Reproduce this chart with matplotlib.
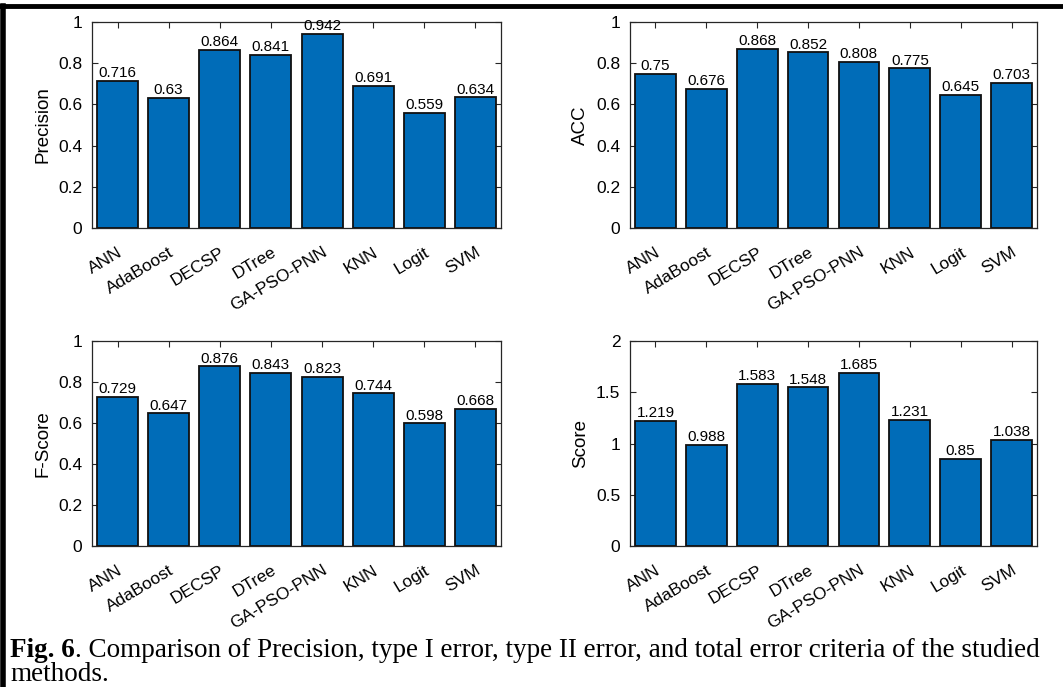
import numpy as np
import matplotlib.pyplot as plt
import matplotlib.transforms as mtransforms
from matplotlib.lines import Line2D

methods = ['ANN', 'AdaBoost', 'DECSP', 'DTree', 'GA-PSO-PNN', 'KNN', 'Logit', 'SVM']
precision = [0.716, 0.63, 0.864, 0.841, 0.942, 0.691, 0.559, 0.634]
acc = [0.75, 0.676, 0.868, 0.852, 0.808, 0.775, 0.645, 0.703]
fscore = [0.729, 0.647, 0.876, 0.843, 0.823, 0.744, 0.598, 0.668]
score = [1.219, 0.988, 1.583, 1.548, 1.685, 1.231, 0.85, 1.038]

ticks_01 = [0, 0.2, 0.4, 0.6, 0.8, 1]
ticks_02 = [0, 0.5, 1, 1.5, 2]

caption_bold = 'Fig. 6'
caption_rest = '. Comparison of Precision, type I error, type II error, and total error criteria of the studied'
caption_line2 = 'methods.'

bar_color = '#006CB8'
sans = 'Liberation Sans'
serif = 'Liberation Serif'

fig = plt.figure(figsize=(10.63, 6.87), dpi=100)

W, H = 1063, 687


def px_axes(x0, y0, x1, y1):
    return fig.add_axes([x0 / W, 1 - y1 / H, (x1 - x0) / W, (y1 - y0) / H])


def bar_panel(ax, vals, ylabel, yticks):
    x = np.arange(1, len(vals) + 1)
    ax.bar(x, vals, width=0.8, color=bar_color, edgecolor='#101010', linewidth=1.3, zorder=2)
    for xi, v in zip(x, vals):
        ax.text(xi, v + yticks[-1] * 0.004, f'{v:g}', ha='center', va='bottom',
                fontsize=11, family=sans, color='black')
    ax.set_xlim(0.5, len(vals) + 0.5)
    ax.set_ylim(0, yticks[-1])
    ax.set_yticks(yticks)
    ax.set_yticklabels([f'{t:g}' for t in yticks], fontsize=12.5, family=sans)
    ax.set_xticks(x)
    ax.set_xticklabels(methods, rotation=31, ha='right', va='top', rotation_mode='anchor',
                       fontsize=12.5, family=sans)
    shift = mtransforms.ScaledTranslation(10 / 100, 0, fig.dpi_scale_trans)
    for lab in ax.get_xticklabels():
        lab.set_transform(lab.get_transform() + shift)
    ax.set_ylabel(ylabel, fontsize=13.5, family=sans, labelpad=5)
    ax.tick_params(direction='in', length=4, width=0.8, top=True, right=True,
                   color='#262626', pad=7)
    ax.tick_params(axis='x', pad=12)
    for s in ax.spines.values():
        s.set_color('#262626')
        s.set_linewidth(0.9)


ax1 = px_axes(92, 22, 501, 228)
bar_panel(ax1, precision, 'Precision', ticks_01)
ax2 = px_axes(630, 22, 1037, 228)
bar_panel(ax2, acc, 'ACC', ticks_01)
ax3 = px_axes(92, 341, 501, 546)
bar_panel(ax3, fscore, 'F-Score', ticks_01)
ax4 = px_axes(630, 341, 1037, 546)
bar_panel(ax4, score, 'Score', ticks_02)

# page border lines
fig.add_artist(Line2D([0, 1], [1 - 6 / H, 1 - 6 / H], color='black', linewidth=3.5,
                      transform=fig.transFigure))
fig.add_artist(Line2D([3 / W, 3 / W], [0, 1 - 6 / H], color='black', linewidth=4,
                      transform=fig.transFigure))

# caption
cap_size = 19.5
t1 = fig.text(10 / W, 1 - 657 / H, caption_bold, fontsize=cap_size, family=serif,
              fontweight='bold', ha='left', va='baseline')
fig.canvas.draw()
bb = t1.get_window_extent()
fig.text(bb.x1 / W, 1 - 657 / H, caption_rest, fontsize=cap_size, family=serif,
         ha='left', va='baseline')
fig.text(10 / W, 1 - 681 / H, caption_line2, fontsize=cap_size, family=serif,
         ha='left', va='baseline')

fig.savefig('out.png', dpi=100)
